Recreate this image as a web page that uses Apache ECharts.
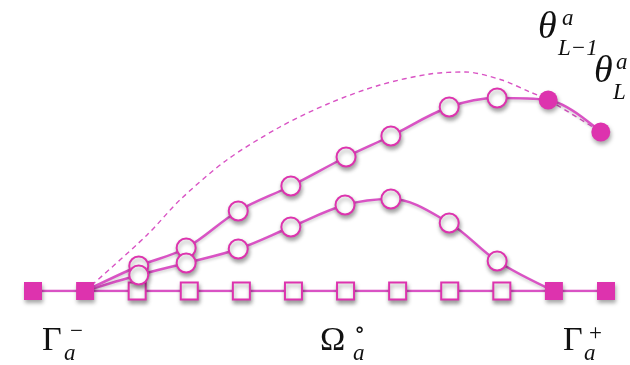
<!DOCTYPE html>
<html>
<head>
<meta charset="utf-8">
<script src="https://cdn.jsdelivr.net/npm/echarts@6/dist/echarts.min.js"></script>
<style>
  html, body { margin: 0; padding: 0; background: #ffffff; }
  #chart { width: 630px; height: 365px; }
</style>
</head>
<body>
<div id="chart"></div>
<script>
// Grid nodes along the boundary line (index positions); filled = boundary nodes
const nodeX = [0, 1, 2, 3, 4, 5, 6, 7, 8, 9, 10, 11];
const nodeFilled = [true, true, false, false, false, false, false, false, false, false, true, true];

// Upper trajectory of θ nodes (x position, height)
const upperX = [2.03, 2.94, 3.94, 4.95, 6.01, 6.87, 7.99, 8.91, 9.89, 10.9];
const upperY = [25, 43, 80, 105, 134, 155, 184, 193, 191, 159];
const upperFilled = [false, false, false, false, false, false, false, false, true, true];

// Lower trajectory of θ nodes
const lowerX = [2.03, 2.94, 3.94, 4.95, 5.99, 6.87, 7.99, 8.91];
const lowerY = [16, 28, 42, 64, 86, 92, 68, 30];

// Dashed envelope curve
const dashX = [1.0, 2.19, 2.82, 3.72, 4.74, 5.70, 6.66, 7.62, 8.3, 9.0, 9.54, 9.89, 10.9];
const dashY = [0, 56, 91, 131, 164, 188, 206, 217, 219, 211, 199, 191, 159];

const startX = 1, endX = 10;

const LINE = '#D953C4';
const FILL = '#DD33AE';
const SHADOW = {
  opacity: 1,
  shadowColor: 'rgba(0,0,0,0.35)',
  shadowBlur: 4,
  shadowOffsetX: 1,
  shadowOffsetY: 3
};
const LINE_SHADOW = { shadowColor: 'rgba(0,0,0,0.18)', shadowBlur: 3, shadowOffsetY: 2 };

const zip = (xs, ys) => xs.map((x, i) => [x, ys[i]]);

const upperLine = [[startX, 0]].concat(zip(upperX, upperY));
const lowerLine = [[startX, 0]].concat(zip(lowerX, lowerY)).concat([[endX, 0]]);

const openStyle = { color: '#ffffff', borderColor: FILL, borderWidth: 2 };
const solidStyle = { color: FILL, borderColor: FILL, borderWidth: 0 };

const squares = nodeX.map((x, i) => ({
  value: [x, 0],
  symbolSize: nodeFilled[i] ? 18 : 17,
  itemStyle: nodeFilled[i] ? solidStyle : openStyle
}));

const circles = zip(upperX, upperY).map((p, i) => ({
  value: p,
  itemStyle: upperFilled[i] ? solidStyle : openStyle
})).concat(zip(lowerX, lowerY).map(p => ({ value: p, itemStyle: openStyle })));

// Math-style annotation: base glyph with superscript and subscript
const SERIF = '"Liberation Serif", "DejaVu Serif", serif';
function mathLabel(x, y, base, sup, sub, opt) {
  const o = Object.assign({ size: 34, small: 23 }, opt || {});
  const txt = (left, top, text, size, italic) => ({
    type: 'text', x: left, y: top, silent: true,
    style: {
      text: text, fill: '#111111',
      font: (italic ? 'italic ' : '') + size + 'px ' + SERIF,
      verticalAlign: 'top'
    }
  });
  return {
    type: 'group',
    children: [
      txt(x, y, base, o.size, o.italicBase),
      txt(x + o.supDx, y + o.supDy, sup, o.small, o.supItalic),
      txt(x + o.subDx, y + o.subDy, sub, o.small, o.subItalic)
    ]
  };
}

const chart = echarts.init(document.getElementById('chart'), null, { renderer: 'canvas' });

chart.setOption({
  backgroundColor: '#ffffff',
  animation: false,
  grid: { left: 33, right: 24, top: 0, bottom: 74 },
  xAxis: { type: 'value', min: 0, max: 11, show: false },
  yAxis: { type: 'value', min: 0, max: 291, show: false },
  series: [
    {
      type: 'line', data: nodeX.map(x => [x, 0]), showSymbol: false, z: 1,
      lineStyle: Object.assign({ color: LINE, width: 2.5 }, LINE_SHADOW)
    },
    {
      type: 'line', data: zip(dashX, dashY), smooth: 0.3, showSymbol: false, z: 2,
      lineStyle: { color: LINE, width: 1.4, type: [5, 4] }
    },
    {
      type: 'line', data: lowerLine, smooth: 0.35, showSymbol: false, z: 2,
      lineStyle: Object.assign({ color: LINE, width: 2.5 }, LINE_SHADOW)
    },
    {
      type: 'line', data: upperLine, smooth: 0.35, showSymbol: false, z: 2,
      lineStyle: Object.assign({ color: LINE, width: 2.5 }, LINE_SHADOW)
    },
    {
      type: 'scatter', data: squares, symbol: 'rect', z: 3,
      itemStyle: SHADOW
    },
    {
      type: 'scatter', data: circles, symbol: 'circle', symbolSize: 19, z: 4,
      itemStyle: SHADOW
    }
  ],
  graphic: [
    mathLabel(42, 324, 'Γ', '−', 'a', { supDx: 28, supDy: -4, subDx: 22, subDy: 18, subItalic: true }),
    mathLabel(320, 324, 'Ω', '∘', 'a', { supDx: 34, supDy: -5, subDx: 33, subDy: 18, subItalic: true }),
    mathLabel(563, 324, 'Γ', '+', 'a', { supDx: 26, supDy: -2, subDx: 21, subDy: 18, subItalic: true }),
    mathLabel(538, 9, 'θ', 'a', 'L−1', { size: 38, italicBase: true, supDx: 24, supDy: -2, subDx: 20, subDy: 28, supItalic: true, subItalic: true }),
    mathLabel(594, 53, 'θ', 'a', 'L', { size: 38, italicBase: true, supDx: 22, supDy: -2, subDx: 19, subDy: 28, supItalic: true, subItalic: true })
  ]
});
</script>
</body>
</html>
